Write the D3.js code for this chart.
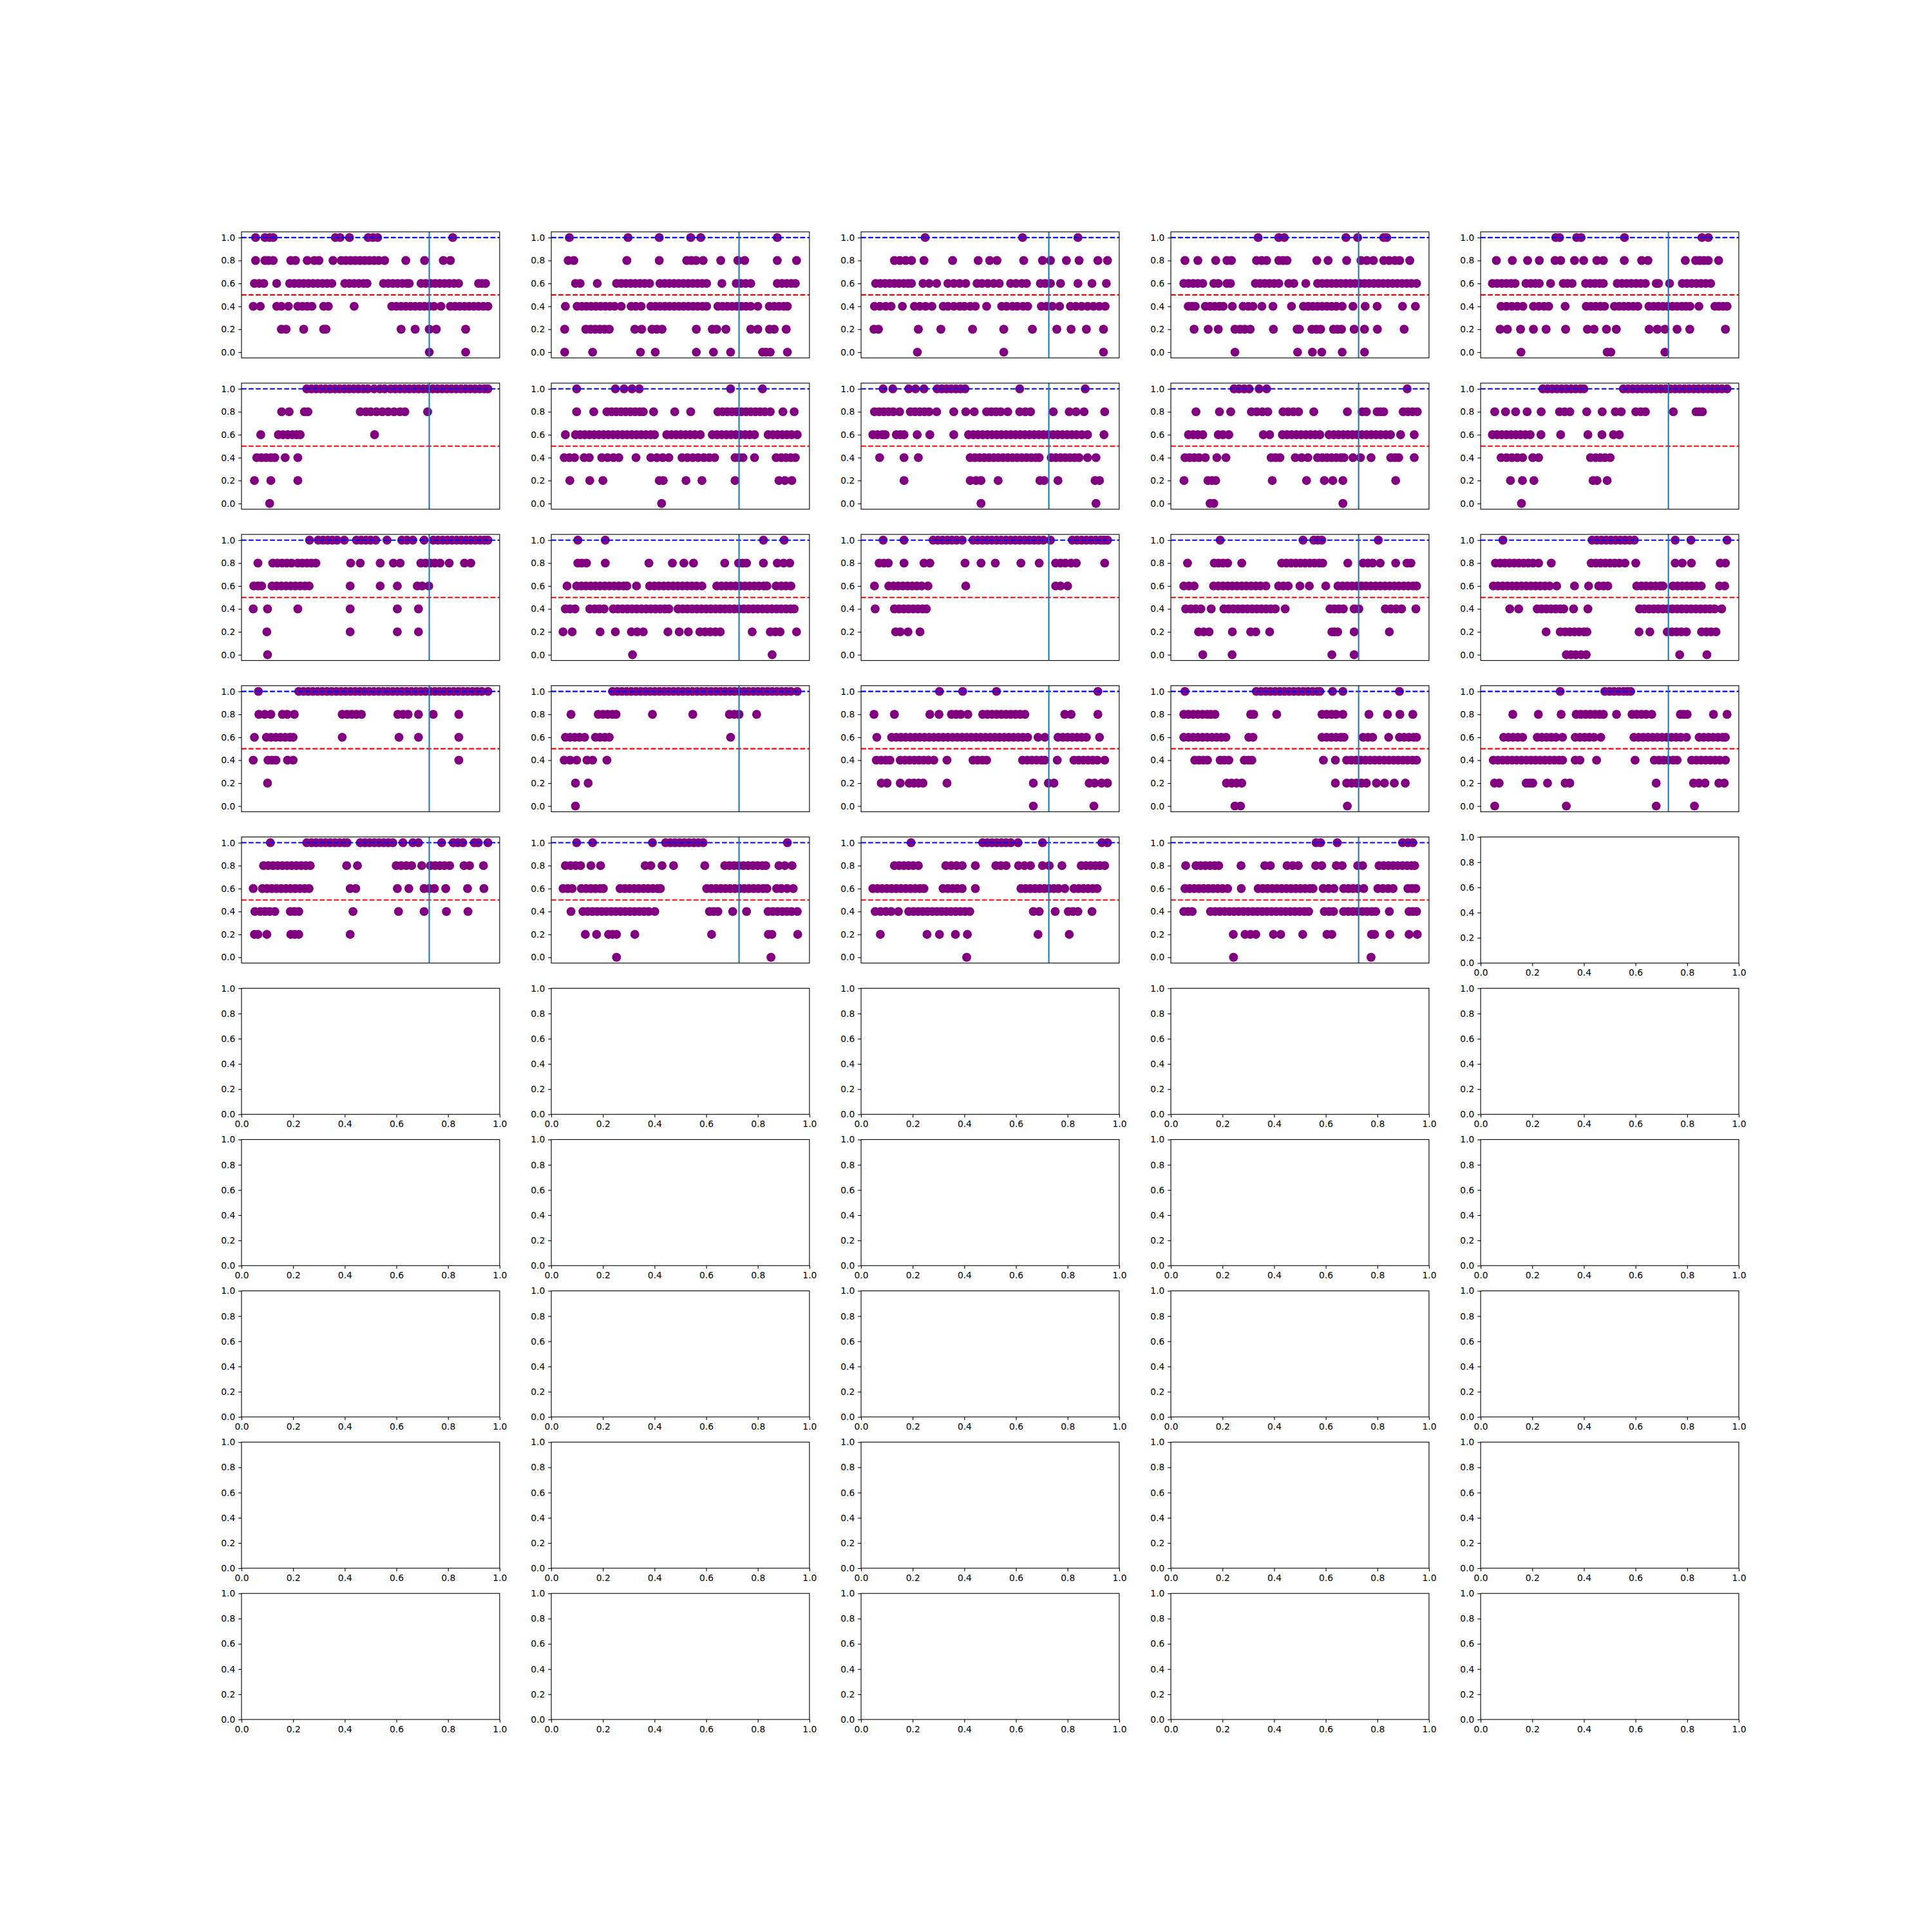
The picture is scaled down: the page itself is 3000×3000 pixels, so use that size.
<!DOCTYPE html>
<html>
<head>
<meta charset="utf-8">
<script src="https://cdn.jsdelivr.net/npm/d3@7"></script>
<style>
  html, body { margin: 0; padding: 0; background: #ffffff; }
  svg { display: block; }
</style>
</head>
<body>
<div id="chart"></div>
<script>
// ---------------- data ----------------
const levels = [0, 0.2, 0.4, 0.6, 0.8, 1.0];
const yTickValues = [0, 0.2, 0.4, 0.6, 0.8, 1.0];
const xTickValues = [0, 0.2, 0.4, 0.6, 0.8, 1.0];
const vlineX = 0.75;
const upperRef = 1.0;
const lowerRef = 0.5;

// each panel: x positions of the dots, one list per level (0.0, 0.2, 0.4, 0.6, 0.8, 1.0)
const p00 = [
  [0.75, 0.905],
  [0.12, 0.14, 0.215, 0.30, 0.31, 0.63, 0.69, 0.75, 0.78, 0.905],
  [0.0, 0.03, 0.10, 0.12, 0.15, 0.19, 0.21, 0.23, 0.25, 0.30, 0.32, 0.43, 0.59, 0.61, 0.63, 0.65, 0.67, 0.69, 0.71, 0.73, 0.75, 0.77, 0.80, 0.84, 0.86, 0.88, 0.90, 0.92, 0.94, 0.96, 0.98, 1.0],
  [0.005, 0.025, 0.045, 0.10, 0.155, 0.175, 0.195, 0.215, 0.235, 0.255, 0.275, 0.295, 0.315, 0.335, 0.39, 0.41, 0.43, 0.45, 0.47, 0.485, 0.555, 0.575, 0.595, 0.615, 0.635, 0.655, 0.665, 0.715, 0.735, 0.755, 0.775, 0.795, 0.815, 0.835, 0.855, 0.875, 0.96, 0.975, 0.99],
  [0.01, 0.05, 0.065, 0.085, 0.16, 0.18, 0.23, 0.26, 0.28, 0.34, 0.375, 0.395, 0.415, 0.435, 0.455, 0.475, 0.495, 0.515, 0.535, 0.56, 0.65, 0.73, 0.81, 0.84],
  [0.01, 0.05, 0.07, 0.085, 0.35, 0.37, 0.41, 0.49, 0.51, 0.53, 0.85]
];
const p01 = [
  [0.007, 0.126, 0.33, 0.393, 0.568, 0.641, 0.714, 0.85, 0.865, 0.883, 0.956],
  [0.007, 0.097, 0.117, 0.137, 0.157, 0.177, 0.197, 0.306, 0.335, 0.379, 0.40, 0.422, 0.568, 0.636, 0.655, 0.694, 0.80, 0.83, 0.88, 0.90, 0.951],
  [0.01, 0.06, 0.08, 0.10, 0.12, 0.14, 0.16, 0.18, 0.20, 0.22, 0.248, 0.29, 0.31, 0.333, 0.374, 0.394, 0.414, 0.434, 0.454, 0.474, 0.494, 0.514, 0.534, 0.554, 0.574, 0.594, 0.612, 0.66, 0.68, 0.70, 0.72, 0.74, 0.76, 0.78, 0.80, 0.83, 0.879, 0.90, 0.92, 0.94, 0.956],
  [0.053, 0.073, 0.146, 0.228, 0.248, 0.268, 0.288, 0.308, 0.328, 0.348, 0.369, 0.413, 0.433, 0.453, 0.473, 0.493, 0.513, 0.533, 0.553, 0.573, 0.593, 0.612, 0.677, 0.738, 0.758, 0.778, 0.80, 0.913, 0.933, 0.953, 0.973, 0.99],
  [0.022, 0.046, 0.272, 0.41, 0.527, 0.547, 0.567, 0.597, 0.672, 0.745, 0.774, 0.913, 0.995],
  [0.027, 0.277, 0.41, 0.544, 0.587, 0.913]
];
const p02 = [
  [0.19, 0.558, 0.983],
  [0.005, 0.024, 0.194, 0.29, 0.425, 0.558, 0.68, 0.784, 0.845, 0.91, 0.983],
  [0.007, 0.03, 0.055, 0.078, 0.126, 0.177, 0.20, 0.225, 0.252, 0.30, 0.32, 0.345, 0.37, 0.39, 0.415, 0.437, 0.485, 0.549, 0.57, 0.595, 0.615, 0.64, 0.66, 0.718, 0.74, 0.765, 0.796, 0.842, 0.865, 0.89, 0.915, 0.94, 0.965, 0.99],
  [0.012, 0.032, 0.052, 0.072, 0.092, 0.112, 0.132, 0.15, 0.165, 0.214, 0.24, 0.272, 0.32, 0.345, 0.37, 0.396, 0.444, 0.465, 0.49, 0.515, 0.539, 0.587, 0.61, 0.635, 0.655, 0.714, 0.735, 0.757, 0.80, 0.874, 0.934, 0.995],
  [0.092, 0.115, 0.14, 0.165, 0.218, 0.34, 0.449, 0.498, 0.529, 0.643, 0.723, 0.757, 0.825, 0.879, 0.959, 1.0],
  [0.223, 0.638, 0.874]
];
const p03 = [
  [0.223, 0.49, 0.553, 0.593, 0.68, 0.775],
  [0.049, 0.109, 0.152, 0.223, 0.245, 0.265, 0.288, 0.387, 0.488, 0.498, 0.551, 0.57, 0.588, 0.643, 0.66, 0.677, 0.731, 0.775, 0.83, 0.944],
  [0.024, 0.04, 0.054, 0.097, 0.117, 0.137, 0.157, 0.173, 0.212, 0.258, 0.28, 0.30, 0.338, 0.385, 0.464, 0.515, 0.535, 0.555, 0.575, 0.595, 0.615, 0.635, 0.655, 0.68, 0.726, 0.778, 0.829, 0.937, 0.992],
  [0.005, 0.025, 0.045, 0.065, 0.086, 0.133, 0.152, 0.189, 0.204, 0.31, 0.33, 0.35, 0.37, 0.39, 0.41, 0.452, 0.474, 0.525, 0.575, 0.595, 0.615, 0.635, 0.655, 0.675, 0.695, 0.715, 0.735, 0.755, 0.775, 0.795, 0.815, 0.835, 0.855, 0.875, 0.895, 0.915, 0.935, 0.955, 0.975, 0.997],
  [0.01, 0.065, 0.141, 0.189, 0.208, 0.315, 0.337, 0.358, 0.41, 0.428, 0.445, 0.572, 0.62, 0.699, 0.76, 0.785, 0.813, 0.857, 0.88, 0.905, 0.925, 0.968],
  [0.322, 0.41, 0.433, 0.696, 0.746, 0.857, 0.87]
];
const p04 = [
  [0.122, 0.489, 0.505, 0.735],
  [0.033, 0.064, 0.12, 0.175, 0.229, 0.312, 0.405, 0.433, 0.486, 0.528, 0.668, 0.703, 0.735, 0.787, 0.841, 0.993],
  [0.037, 0.06, 0.083, 0.106, 0.13, 0.175, 0.198, 0.22, 0.24, 0.31, 0.40, 0.42, 0.44, 0.46, 0.478, 0.52, 0.54, 0.56, 0.58, 0.60, 0.62, 0.667, 0.687, 0.707, 0.727, 0.747, 0.767, 0.787, 0.807, 0.825, 0.842, 0.88, 0.948, 0.965, 0.983, 1.0],
  [0.0, 0.02, 0.04, 0.06, 0.08, 0.097, 0.143, 0.163, 0.183, 0.20, 0.248, 0.302, 0.32, 0.34, 0.397, 0.417, 0.437, 0.457, 0.473, 0.532, 0.552, 0.572, 0.592, 0.612, 0.632, 0.652, 0.698, 0.708, 0.755, 0.809, 0.829, 0.849, 0.869, 0.889, 0.909, 0.93],
  [0.017, 0.085, 0.15, 0.2, 0.267, 0.291, 0.35, 0.389, 0.445, 0.473, 0.562, 0.636, 0.663, 0.822, 0.866, 0.884, 0.902, 0.92, 0.964],
  [0.27, 0.286, 0.359, 0.378, 0.563, 0.893, 0.92]
];
const p10 = [
  [0.07],
  [0.005, 0.075, 0.19],
  [0.015, 0.035, 0.055, 0.075, 0.092, 0.136, 0.19],
  [0.032, 0.107, 0.127, 0.147, 0.167, 0.185, 0.2, 0.517],
  [0.121, 0.153, 0.218, 0.233, 0.456, 0.48, 0.50, 0.525, 0.55, 0.575, 0.60, 0.625, 0.646, 0.743],
  [0.228, 0.248, 0.268, 0.288, 0.308, 0.328, 0.348, 0.368, 0.388, 0.408, 0.428, 0.448, 0.468, 0.488, 0.515, 0.54, 0.56, 0.585, 0.605, 0.625, 0.645, 0.665, 0.685, 0.705, 0.725, 0.745, 0.765, 0.785, 0.805, 0.825, 0.845, 0.865, 0.885, 0.905, 0.925, 0.945, 0.965, 0.985, 1.0]
];
const p11 = [
  [0.42],
  [0.029, 0.114, 0.17, 0.41, 0.427, 0.524, 0.592, 0.733, 0.92, 0.945, 0.975],
  [0.005, 0.027, 0.049, 0.09, 0.112, 0.165, 0.19, 0.215, 0.238, 0.311, 0.374, 0.40, 0.425, 0.451, 0.507, 0.53, 0.553, 0.576, 0.60, 0.623, 0.646, 0.733, 0.75, 0.767, 0.816, 0.908, 0.93, 0.95, 0.97, 0.99],
  [0.01, 0.053, 0.073, 0.093, 0.113, 0.133, 0.153, 0.173, 0.193, 0.213, 0.233, 0.253, 0.273, 0.293, 0.313, 0.333, 0.353, 0.373, 0.39, 0.442, 0.462, 0.482, 0.502, 0.522, 0.542, 0.562, 0.585, 0.636, 0.656, 0.676, 0.696, 0.716, 0.736, 0.756, 0.776, 0.796, 0.816, 0.874, 0.894, 0.914, 0.934, 0.954, 0.974, 0.998],
  [0.058, 0.131, 0.187, 0.207, 0.227, 0.247, 0.267, 0.287, 0.307, 0.327, 0.342, 0.386, 0.476, 0.544, 0.66, 0.68, 0.70, 0.72, 0.74, 0.76, 0.78, 0.80, 0.82, 0.84, 0.86, 0.883, 0.937, 0.985],
  [0.058, 0.223, 0.26, 0.294, 0.325, 0.714, 0.85]
];
const p12 = [
  [0.461, 0.951],
  [0.133, 0.415, 0.44, 0.461, 0.534, 0.712, 0.73, 0.789, 0.947, 0.966],
  [0.029, 0.133, 0.194, 0.415, 0.435, 0.455, 0.475, 0.495, 0.515, 0.535, 0.555, 0.575, 0.595, 0.615, 0.635, 0.655, 0.675, 0.695, 0.709, 0.76, 0.78, 0.80, 0.82, 0.84, 0.86, 0.879, 0.915, 0.951],
  [0.0, 0.02, 0.04, 0.053, 0.10, 0.117, 0.133, 0.189, 0.243, 0.345, 0.408, 0.428, 0.448, 0.468, 0.488, 0.508, 0.528, 0.548, 0.568, 0.588, 0.608, 0.628, 0.648, 0.668, 0.688, 0.708, 0.728, 0.748, 0.768, 0.788, 0.808, 0.828, 0.848, 0.868, 0.891, 0.915, 0.985],
  [0.007, 0.027, 0.047, 0.067, 0.087, 0.114, 0.16, 0.18, 0.20, 0.22, 0.24, 0.272, 0.345, 0.396, 0.432, 0.485, 0.505, 0.525, 0.545, 0.575, 0.626, 0.65, 0.672, 0.769, 0.837, 0.866, 0.90, 0.988],
  [0.044, 0.085, 0.153, 0.182, 0.218, 0.274, 0.294, 0.314, 0.334, 0.354, 0.374, 0.393, 0.626, 0.905]
];
const p13 = [
  [0.117, 0.133, 0.683],
  [0.006, 0.108, 0.125, 0.141, 0.382, 0.528, 0.604, 0.64, 0.683, 0.908],
  [0.01, 0.03, 0.05, 0.07, 0.097, 0.146, 0.185, 0.377, 0.396, 0.415, 0.48, 0.507, 0.534, 0.575, 0.595, 0.615, 0.635, 0.655, 0.675, 0.688, 0.726, 0.758, 0.803, 0.887, 0.905, 0.921, 0.987],
  [0.025, 0.045, 0.065, 0.086, 0.152, 0.172, 0.197, 0.344, 0.371, 0.425, 0.445, 0.465, 0.485, 0.505, 0.525, 0.545, 0.565, 0.585, 0.624, 0.644, 0.664, 0.684, 0.704, 0.724, 0.744, 0.764, 0.784, 0.804, 0.824, 0.844, 0.866, 0.886, 0.929, 0.987],
  [0.057, 0.157, 0.205, 0.293, 0.316, 0.34, 0.363, 0.428, 0.45, 0.472, 0.494, 0.559, 0.702, 0.765, 0.783, 0.829, 0.843, 0.857, 0.94, 0.96, 0.98, 1.0],
  [0.219, 0.24, 0.262, 0.284, 0.326, 0.358, 0.957]
];
const p14 = [
  [0.124],
  [0.077, 0.128, 0.177, 0.429, 0.446, 0.489],
  [0.037, 0.06, 0.083, 0.106, 0.129, 0.172, 0.197, 0.418, 0.44, 0.46, 0.48, 0.502],
  [0.0, 0.02, 0.04, 0.06, 0.08, 0.10, 0.12, 0.14, 0.161, 0.207, 0.291, 0.407, 0.467, 0.516, 0.541],
  [0.01, 0.056, 0.099, 0.148, 0.208, 0.286, 0.308, 0.33, 0.402, 0.468, 0.524, 0.549, 0.611, 0.632, 0.652, 0.771, 0.868, 0.882, 0.895],
  [0.215, 0.235, 0.255, 0.275, 0.295, 0.315, 0.335, 0.355, 0.375, 0.39, 0.558, 0.578, 0.598, 0.618, 0.638, 0.658, 0.678, 0.698, 0.718, 0.738, 0.758, 0.778, 0.798, 0.818, 0.838, 0.858, 0.878, 0.898, 0.918, 0.938, 0.958, 0.978, 1.0]
];
const p20 = [
  [0.061],
  [0.058, 0.413, 0.614, 0.704],
  [0.0, 0.061, 0.19, 0.413, 0.614, 0.704],
  [0.002, 0.02, 0.036, 0.08, 0.10, 0.12, 0.14, 0.16, 0.18, 0.20, 0.22, 0.238, 0.413, 0.541, 0.614, 0.699, 0.72, 0.748],
  [0.02, 0.083, 0.103, 0.123, 0.143, 0.163, 0.19, 0.209, 0.229, 0.248, 0.267, 0.415, 0.456, 0.541, 0.597, 0.626, 0.714, 0.734, 0.754, 0.774, 0.796, 0.835, 0.90, 0.927],
  [0.24, 0.277, 0.297, 0.317, 0.337, 0.357, 0.388, 0.44, 0.46, 0.48, 0.50, 0.522, 0.57, 0.633, 0.655, 0.68, 0.728, 0.767, 0.787, 0.807, 0.827, 0.847, 0.867, 0.887, 0.907, 0.927, 0.947, 0.967, 0.985, 1.0]
];
const p21 = [
  [0.296, 0.891],
  [0.0, 0.039, 0.158, 0.223, 0.291, 0.316, 0.342, 0.447, 0.495, 0.534, 0.583, 0.605, 0.627, 0.649, 0.67, 0.806, 0.883, 0.905, 0.925, 0.995],
  [0.01, 0.03, 0.051, 0.114, 0.135, 0.155, 0.175, 0.214, 0.234, 0.254, 0.274, 0.294, 0.314, 0.334, 0.354, 0.374, 0.394, 0.414, 0.434, 0.451, 0.49, 0.51, 0.53, 0.55, 0.57, 0.59, 0.61, 0.63, 0.65, 0.67, 0.69, 0.71, 0.73, 0.75, 0.77, 0.79, 0.81, 0.83, 0.85, 0.87, 0.89, 0.91, 0.93, 0.95, 0.97, 0.985],
  [0.017, 0.058, 0.078, 0.098, 0.118, 0.138, 0.158, 0.178, 0.198, 0.218, 0.238, 0.258, 0.272, 0.313, 0.369, 0.389, 0.409, 0.429, 0.449, 0.469, 0.489, 0.509, 0.529, 0.549, 0.569, 0.592, 0.655, 0.675, 0.695, 0.715, 0.735, 0.755, 0.775, 0.795, 0.815, 0.835, 0.855, 0.869, 0.908, 0.93, 0.95, 0.971],
  [0.063, 0.08, 0.1, 0.18, 0.366, 0.466, 0.515, 0.556, 0.689, 0.748, 0.765, 0.782, 0.854, 0.913, 0.94, 0.966],
  [0.063, 0.18, 0.854, 0.942]
];
const p22 = [
  [],
  [0.097, 0.117, 0.15, 0.201],
  [0.01, 0.092, 0.112, 0.132, 0.152, 0.172, 0.192, 0.212, 0.228],
  [0.007, 0.068, 0.088, 0.108, 0.128, 0.148, 0.168, 0.188, 0.208, 0.235, 0.396, 0.779, 0.80, 0.83],
  [0.027, 0.047, 0.066, 0.133, 0.218, 0.243, 0.393, 0.461, 0.522, 0.631, 0.709, 0.779, 0.80, 0.82, 0.845, 0.867, 0.988],
  [0.044, 0.133, 0.257, 0.277, 0.297, 0.317, 0.337, 0.357, 0.381, 0.427, 0.447, 0.467, 0.487, 0.507, 0.527, 0.547, 0.567, 0.587, 0.607, 0.627, 0.647, 0.667, 0.687, 0.707, 0.727, 0.757, 0.85, 0.87, 0.89, 0.91, 0.93, 0.95, 0.97, 0.985, 1.0]
];
const p23 = [
  [0.086, 0.211, 0.636, 0.731],
  [0.068, 0.09, 0.113, 0.212, 0.29, 0.312, 0.371, 0.636, 0.648, 0.661, 0.731, 0.881],
  [0.013, 0.035, 0.056, 0.078, 0.122, 0.176, 0.196, 0.216, 0.236, 0.256, 0.276, 0.296, 0.316, 0.336, 0.356, 0.376, 0.395, 0.437, 0.628, 0.647, 0.666, 0.685, 0.731, 0.751, 0.864, 0.887, 0.91, 0.933, 0.994],
  [0.005, 0.027, 0.049, 0.132, 0.152, 0.172, 0.192, 0.212, 0.232, 0.252, 0.272, 0.292, 0.312, 0.332, 0.355, 0.409, 0.43, 0.45, 0.50, 0.54, 0.61, 0.662, 0.682, 0.702, 0.722, 0.742, 0.762, 0.782, 0.802, 0.822, 0.842, 0.862, 0.882, 0.902, 0.922, 0.942, 0.962, 0.982, 0.997],
  [0.021, 0.135, 0.153, 0.172, 0.192, 0.252, 0.422, 0.442, 0.462, 0.482, 0.502, 0.522, 0.542, 0.562, 0.582, 0.597, 0.704, 0.769, 0.79, 0.81, 0.842, 0.908, 0.956, 0.973],
  [0.16, 0.513, 0.559, 0.576, 0.593, 0.834]
];
const p24 = [
  [0.315, 0.335, 0.355, 0.378, 0.4, 0.798, 0.914],
  [0.229, 0.289, 0.31, 0.33, 0.35, 0.37, 0.39, 0.403, 0.625, 0.671, 0.745, 0.765, 0.785, 0.805, 0.827, 0.891, 0.912, 0.932, 0.953],
  [0.074, 0.112, 0.191, 0.21, 0.23, 0.25, 0.27, 0.29, 0.304, 0.346, 0.407, 0.627, 0.647, 0.667, 0.687, 0.707, 0.727, 0.747, 0.767, 0.787, 0.807, 0.827, 0.847, 0.867, 0.887, 0.907, 0.927, 0.947, 0.977],
  [0.004, 0.024, 0.044, 0.064, 0.084, 0.104, 0.124, 0.144, 0.164, 0.184, 0.204, 0.224, 0.244, 0.274, 0.35, 0.41, 0.453, 0.473, 0.492, 0.615, 0.635, 0.655, 0.675, 0.695, 0.715, 0.727, 0.769, 0.789, 0.809, 0.829, 0.849, 0.869, 0.89, 0.968, 0.99],
  [0.013, 0.033, 0.053, 0.073, 0.093, 0.113, 0.133, 0.153, 0.173, 0.197, 0.251, 0.421, 0.441, 0.461, 0.481, 0.501, 0.521, 0.541, 0.565, 0.611, 0.779, 0.809, 0.848, 0.971, 0.993],
  [0.045, 0.425, 0.445, 0.465, 0.485, 0.505, 0.525, 0.545, 0.565, 0.585, 0.605, 0.779, 0.846, 1.0]
];
const p30 = [
  [],
  [0.061],
  [0.0, 0.063, 0.08, 0.097, 0.146, 0.17, 0.876],
  [0.005, 0.056, 0.076, 0.096, 0.116, 0.136, 0.156, 0.17, 0.379, 0.621, 0.704, 0.876],
  [0.024, 0.049, 0.075, 0.124, 0.145, 0.175, 0.379, 0.40, 0.42, 0.44, 0.461, 0.616, 0.638, 0.66, 0.704, 0.767, 0.876],
  [0.022, 0.194, 0.214, 0.234, 0.254, 0.274, 0.294, 0.314, 0.334, 0.354, 0.374, 0.394, 0.414, 0.434, 0.454, 0.474, 0.494, 0.514, 0.534, 0.554, 0.574, 0.594, 0.614, 0.634, 0.654, 0.674, 0.694, 0.714, 0.734, 0.754, 0.774, 0.794, 0.814, 0.834, 0.854, 0.874, 0.894, 0.914, 0.934, 0.954, 0.974, 1.0]
];
const p31 = [
  [0.053],
  [0.053, 0.107],
  [0.005, 0.03, 0.058, 0.102, 0.126, 0.187],
  [0.01, 0.03, 0.05, 0.07, 0.092, 0.138, 0.158, 0.178, 0.197, 0.714],
  [0.034, 0.15, 0.17, 0.19, 0.21, 0.226, 0.381, 0.553, 0.709, 0.73, 0.75, 0.825],
  [0.211, 0.231, 0.251, 0.271, 0.291, 0.311, 0.331, 0.351, 0.371, 0.391, 0.411, 0.431, 0.451, 0.471, 0.491, 0.511, 0.531, 0.551, 0.571, 0.591, 0.611, 0.631, 0.651, 0.671, 0.691, 0.711, 0.731, 0.751, 0.771, 0.791, 0.811, 0.831, 0.851, 0.871, 0.891, 0.911, 0.931, 0.951, 0.971, 0.998]
];
const p32 = [
  [0.684, 0.942],
  [0.036, 0.061, 0.117, 0.155, 0.175, 0.195, 0.214, 0.316, 0.684, 0.748, 0.772, 0.922, 0.945, 0.975, 1.0],
  [0.015, 0.035, 0.055, 0.073, 0.117, 0.137, 0.157, 0.177, 0.197, 0.217, 0.237, 0.26, 0.316, 0.427, 0.447, 0.467, 0.485, 0.638, 0.658, 0.678, 0.698, 0.718, 0.733, 0.786, 0.857, 0.877, 0.897, 0.917, 0.937, 0.957, 0.988],
  [0.017, 0.08, 0.10, 0.12, 0.14, 0.16, 0.18, 0.20, 0.22, 0.24, 0.26, 0.28, 0.30, 0.32, 0.34, 0.36, 0.38, 0.40, 0.42, 0.44, 0.46, 0.48, 0.50, 0.52, 0.54, 0.56, 0.58, 0.60, 0.62, 0.64, 0.66, 0.704, 0.733, 0.789, 0.81, 0.83, 0.85, 0.87, 0.89, 0.91, 0.966],
  [0.005, 0.092, 0.243, 0.282, 0.335, 0.355, 0.375, 0.405, 0.468, 0.488, 0.508, 0.528, 0.548, 0.568, 0.588, 0.608, 0.628, 0.648, 0.818, 0.845, 0.959],
  [0.284, 0.383, 0.527, 0.959]
];
const p33 = [
  [0.223, 0.247, 0.702],
  [0.187, 0.209, 0.23, 0.252, 0.651, 0.699, 0.72, 0.741, 0.762, 0.783, 0.826, 0.86, 0.902, 0.949],
  [0.052, 0.07, 0.088, 0.106, 0.16, 0.178, 0.197, 0.263, 0.28, 0.295, 0.6, 0.651, 0.699, 0.719, 0.739, 0.759, 0.779, 0.799, 0.819, 0.839, 0.859, 0.879, 0.899, 0.919, 0.939, 0.959, 0.979, 0.997],
  [0.005, 0.025, 0.045, 0.065, 0.085, 0.105, 0.125, 0.145, 0.165, 0.185, 0.282, 0.3, 0.594, 0.614, 0.634, 0.654, 0.674, 0.688, 0.769, 0.79, 0.81, 0.878, 0.924, 0.944, 0.964, 0.984, 0.997],
  [0.005, 0.025, 0.045, 0.065, 0.085, 0.105, 0.12, 0.138, 0.29, 0.303, 0.401, 0.594, 0.614, 0.634, 0.654, 0.683, 0.794, 0.873, 0.926, 0.981],
  [0.01, 0.314, 0.334, 0.354, 0.374, 0.394, 0.414, 0.434, 0.454, 0.474, 0.494, 0.514, 0.534, 0.554, 0.574, 0.585, 0.639, 0.683, 0.924]
];
const p34 = [
  [0.01, 0.315, 0.698, 0.861],
  [0.009, 0.029, 0.144, 0.158, 0.172, 0.235, 0.31, 0.33, 0.698, 0.857, 0.88, 0.906, 0.965, 0.988],
  [0.004, 0.024, 0.044, 0.064, 0.084, 0.104, 0.124, 0.144, 0.164, 0.184, 0.204, 0.224, 0.244, 0.264, 0.284, 0.299, 0.353, 0.373, 0.444, 0.608, 0.69, 0.71, 0.73, 0.75, 0.77, 0.787, 0.849, 0.869, 0.889, 0.909, 0.929, 0.949, 0.969, 0.993],
  [0.048, 0.068, 0.088, 0.108, 0.129, 0.191, 0.211, 0.231, 0.251, 0.271, 0.299, 0.353, 0.373, 0.393, 0.413, 0.433, 0.462, 0.603, 0.623, 0.643, 0.663, 0.683, 0.703, 0.723, 0.743, 0.763, 0.783, 0.803, 0.827, 0.881, 0.901, 0.921, 0.941, 0.961, 0.981, 0.993],
  [0.087, 0.196, 0.293, 0.357, 0.377, 0.397, 0.417, 0.437, 0.457, 0.473, 0.529, 0.595, 0.615, 0.635, 0.655, 0.679, 0.801, 0.815, 0.83, 0.942, 1.0],
  [0.289, 0.479, 0.499, 0.519, 0.539, 0.559, 0.575, 0.589]
];
const p40 = [
  [],
  [0.005, 0.02, 0.058, 0.16, 0.177, 0.194, 0.413],
  [0.007, 0.03, 0.05, 0.07, 0.092, 0.158, 0.176, 0.194, 0.425, 0.619, 0.728, 0.823, 0.915],
  [0.0, 0.039, 0.059, 0.079, 0.099, 0.119, 0.139, 0.159, 0.179, 0.199, 0.219, 0.238, 0.413, 0.437, 0.614, 0.663, 0.728, 0.75, 0.772, 0.82, 0.913, 0.983],
  [0.044, 0.064, 0.084, 0.104, 0.124, 0.144, 0.164, 0.184, 0.204, 0.224, 0.243, 0.398, 0.444, 0.609, 0.63, 0.652, 0.675, 0.718, 0.755, 0.775, 0.795, 0.815, 0.837, 0.898, 0.922, 0.981],
  [0.073, 0.228, 0.248, 0.268, 0.288, 0.308, 0.328, 0.348, 0.368, 0.388, 0.40, 0.456, 0.476, 0.496, 0.516, 0.536, 0.556, 0.576, 0.595, 0.638, 0.68, 0.704, 0.803, 0.852, 0.872, 0.893, 0.942, 0.959, 1.0]
];
const p41 = [
  [0.228, 0.886],
  [0.095, 0.143, 0.194, 0.211, 0.228, 0.306, 0.633, 0.875, 0.89, 1.0],
  [0.034, 0.085, 0.105, 0.125, 0.145, 0.165, 0.185, 0.205, 0.225, 0.245, 0.265, 0.285, 0.305, 0.325, 0.345, 0.365, 0.391, 0.624, 0.642, 0.66, 0.723, 0.782, 0.874, 0.894, 0.914, 0.934, 0.954, 0.974, 0.998],
  [0.0, 0.02, 0.039, 0.078, 0.098, 0.118, 0.138, 0.158, 0.172, 0.243, 0.263, 0.283, 0.303, 0.323, 0.343, 0.363, 0.383, 0.403, 0.415, 0.612, 0.632, 0.652, 0.672, 0.692, 0.712, 0.732, 0.752, 0.772, 0.792, 0.812, 0.832, 0.852, 0.869, 0.91, 0.93, 0.955, 0.981],
  [0.01, 0.032, 0.054, 0.075, 0.119, 0.16, 0.35, 0.374, 0.422, 0.471, 0.604, 0.689, 0.709, 0.729, 0.749, 0.769, 0.789, 0.809, 0.829, 0.849, 0.864, 0.92, 0.945, 0.976],
  [0.058, 0.126, 0.381, 0.437, 0.457, 0.477, 0.497, 0.517, 0.537, 0.557, 0.577, 0.597, 0.956]
];
const p42 = [
  [0.4],
  [0.032, 0.231, 0.284, 0.352, 0.403, 0.704, 0.837],
  [0.01, 0.033, 0.056, 0.078, 0.109, 0.153, 0.173, 0.193, 0.213, 0.233, 0.253, 0.273, 0.293, 0.313, 0.333, 0.353, 0.373, 0.393, 0.413, 0.684, 0.709, 0.777, 0.833, 0.853, 0.874, 0.934],
  [0.0, 0.02, 0.04, 0.06, 0.08, 0.10, 0.12, 0.14, 0.16, 0.18, 0.20, 0.218, 0.299, 0.32, 0.34, 0.36, 0.381, 0.437, 0.631, 0.651, 0.671, 0.691, 0.711, 0.731, 0.751, 0.771, 0.791, 0.818, 0.857, 0.877, 0.897, 0.917, 0.937, 0.956],
  [0.092, 0.112, 0.132, 0.152, 0.172, 0.194, 0.311, 0.334, 0.357, 0.381, 0.437, 0.524, 0.546, 0.568, 0.621, 0.646, 0.672, 0.723, 0.752, 0.806, 0.888, 0.908, 0.928, 0.948, 0.968, 0.988],
  [0.163, 0.468, 0.488, 0.508, 0.528, 0.548, 0.568, 0.588, 0.619, 0.723, 0.976, 1.0]
];
const p43 = [
  [0.217, 0.803],
  [0.216, 0.266, 0.289, 0.312, 0.387, 0.418, 0.512, 0.615, 0.636, 0.805, 0.818, 0.883, 0.965, 1.0],
  [0.005, 0.023, 0.041, 0.119, 0.139, 0.159, 0.179, 0.199, 0.219, 0.239, 0.259, 0.279, 0.299, 0.319, 0.339, 0.359, 0.379, 0.399, 0.419, 0.439, 0.459, 0.479, 0.499, 0.519, 0.537, 0.604, 0.624, 0.643, 0.686, 0.706, 0.726, 0.746, 0.766, 0.786, 0.806, 0.823, 0.881, 0.965, 0.981, 0.997],
  [0.01, 0.03, 0.05, 0.07, 0.09, 0.11, 0.13, 0.15, 0.17, 0.192, 0.25, 0.322, 0.342, 0.362, 0.382, 0.402, 0.422, 0.442, 0.462, 0.482, 0.502, 0.522, 0.542, 0.556, 0.599, 0.622, 0.645, 0.686, 0.706, 0.726, 0.746, 0.772, 0.832, 0.854, 0.876, 0.897, 0.96, 0.977, 0.994],
  [0.013, 0.057, 0.077, 0.097, 0.117, 0.137, 0.154, 0.249, 0.35, 0.374, 0.445, 0.469, 0.493, 0.567, 0.593, 0.655, 0.68, 0.746, 0.767, 0.837, 0.857, 0.877, 0.897, 0.917, 0.937, 0.957, 0.975, 0.989],
  [0.569, 0.588, 0.659, 0.937, 0.96, 0.981]
];

const panels = [p00, p01, p02, p03, p04, p10, p11, p12, p13, p14,
                p20, p21, p22, p23, p24, p30, p31, p32, p33, p34,
                p40, p41, p42, p43];

// ---------------- layout (matplotlib-like 10 x 5 grid) ----------------
const figW = 3000, figH = 3000;
const nRows = 10, nCols = 5;
const figLeft = 0.125 * figW, figRight = 0.9 * figW;
const figTop = 0.12 * figH, figBottom = 0.89 * figH;
const cellW = (figRight - figLeft) / (nCols + (nCols - 1) * 0.2);
const cellH = (figBottom - figTop) / (nRows + (nRows - 1) * 0.2);
const gapW = cellW * 0.2, gapH = cellH * 0.2;

const PT = 100 / 72;               // px per point at dpi 100
const fontSize = 10 * PT;
const tickLen = 3.5 * PT;
const spineW = 0.8 * PT;
const lineW = 1.5 * PT;
const dotR = 5 * PT;               // scatter s = 100 -> diameter 10 pt

const svg = d3.select("#chart").append("svg")
  .attr("width", figW).attr("height", figH)
  .attr("xmlns", "http://www.w3.org/2000/svg");
svg.append("rect").attr("width", figW).attr("height", figH).attr("fill", "#ffffff");

function styleAxis(g) {
  g.select(".domain").remove();
  g.selectAll(".tick line").attr("stroke", "#000").attr("stroke-width", spineW);
  g.selectAll(".tick text")
    .attr("fill", "#000")
    .attr("font-family", "'DejaVu Sans', sans-serif")
    .attr("font-size", fontSize);
}

for (let k = 0; k < nRows * nCols; k++) {
  const r = Math.floor(k / nCols), c = k % nCols;
  const x0 = figLeft + c * (cellW + gapW);
  const y0 = figTop + r * (cellH + gapH);
  const g = svg.append("g").attr("transform", `translate(${x0},${y0})`);
  const data = panels[k];

  if (data) {
    const x = d3.scaleLinear().domain([-0.05, 1.05]).range([0, cellW]);
    const y = d3.scaleLinear().domain([-0.05, 1.05]).range([cellH, 0]);
    const clipId = "clip" + k;
    g.append("clipPath").attr("id", clipId)
      .append("rect").attr("width", cellW).attr("height", cellH);
    const plot = g.append("g").attr("clip-path", `url(#${clipId})`);

    const pts = [];
    data.forEach((xs, li) => xs.forEach(v => pts.push({ x: v, y: levels[li] })));
    plot.selectAll("circle").data(pts).join("circle")
      .attr("cx", d => x(d.x)).attr("cy", d => y(d.y))
      .attr("r", dotR).attr("fill", "#800080");

    plot.append("line")
      .attr("x1", 0).attr("x2", cellW).attr("y1", y(upperRef)).attr("y2", y(upperRef))
      .attr("stroke", "#0000ff").attr("stroke-width", lineW)
      .attr("stroke-dasharray", `${3.7 * lineW},${1.6 * lineW}`);
    plot.append("line")
      .attr("x1", 0).attr("x2", cellW).attr("y1", y(lowerRef)).attr("y2", y(lowerRef))
      .attr("stroke", "#ff0000").attr("stroke-width", lineW)
      .attr("stroke-dasharray", `${3.7 * lineW},${1.6 * lineW}`);
    plot.append("line")
      .attr("x1", x(vlineX)).attr("x2", x(vlineX)).attr("y1", 0).attr("y2", cellH)
      .attr("stroke", "#1f77b4").attr("stroke-width", lineW);

    const ya = g.append("g").call(
      d3.axisLeft(y).tickValues(yTickValues).tickSize(tickLen).tickPadding(tickLen)
        .tickFormat(d3.format(".1f")));
    styleAxis(ya);
  } else {
    const x = d3.scaleLinear().domain([0, 1]).range([0, cellW]);
    const y = d3.scaleLinear().domain([0, 1]).range([cellH, 0]);
    const ya = g.append("g").call(
      d3.axisLeft(y).tickValues(yTickValues).tickSize(tickLen).tickPadding(tickLen)
        .tickFormat(d3.format(".1f")));
    styleAxis(ya);
    const xa = g.append("g").attr("transform", `translate(0,${cellH})`).call(
      d3.axisBottom(x).tickValues(xTickValues).tickSize(tickLen).tickPadding(tickLen)
        .tickFormat(d3.format(".1f")));
    styleAxis(xa);
  }

  g.append("rect")
    .attr("width", cellW).attr("height", cellH)
    .attr("fill", "none").attr("stroke", "#000").attr("stroke-width", spineW);
}
</script>
</body>
</html>
